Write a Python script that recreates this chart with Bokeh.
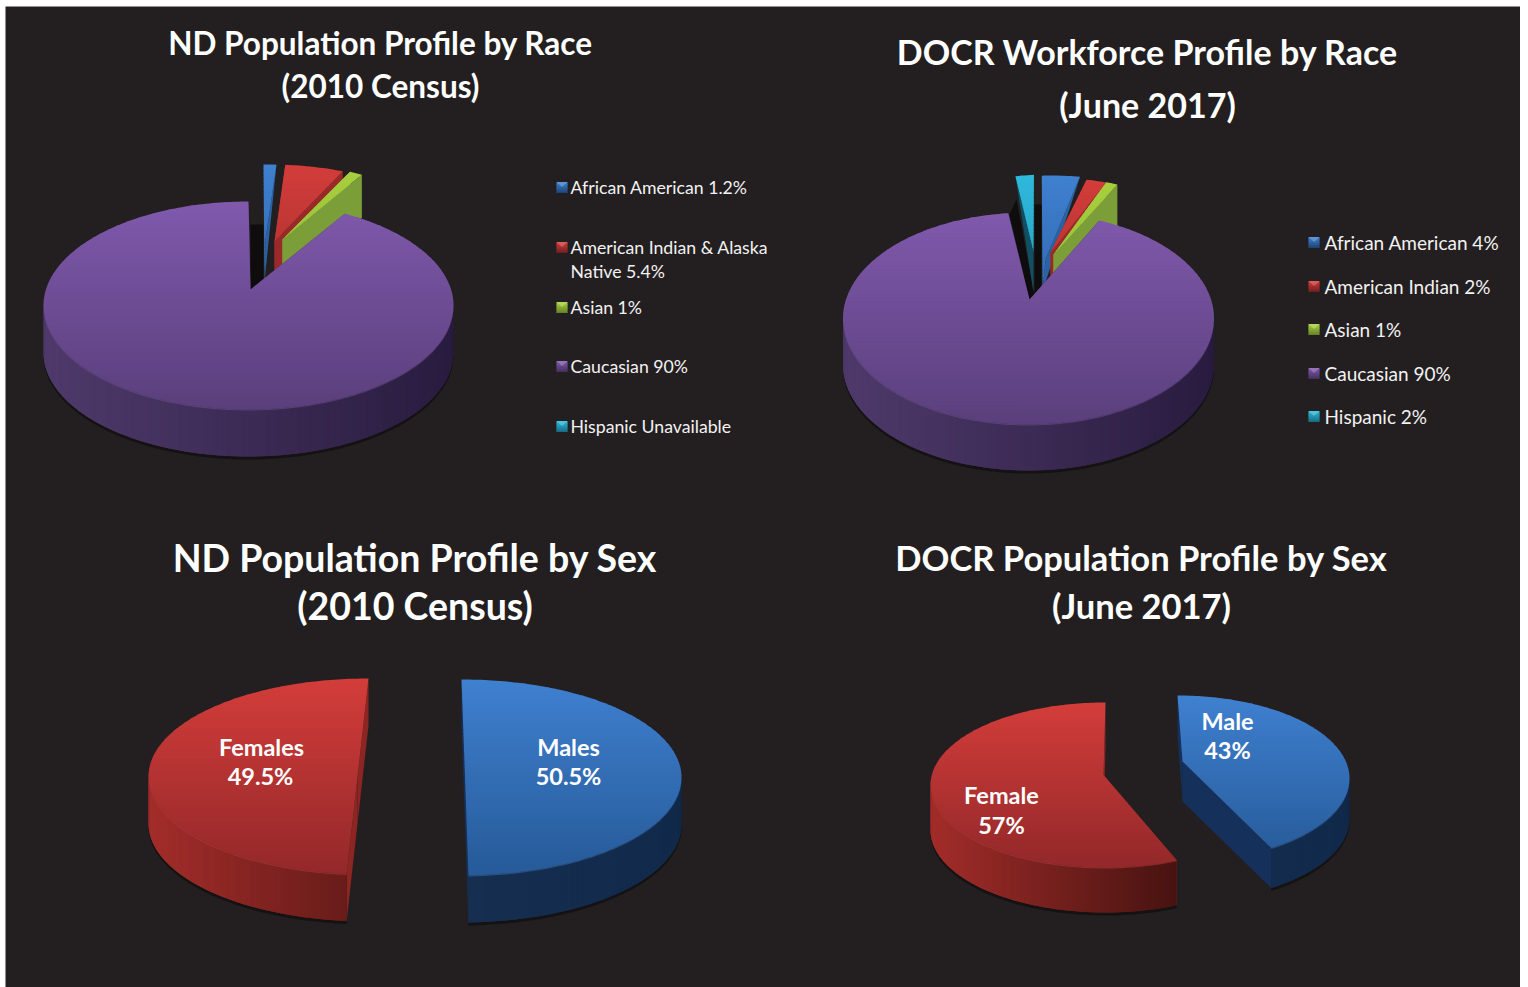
import math
from bokeh.plotting import figure
from bokeh.models import ColumnDataSource, Range1d
from bokeh.core.properties import value
from bokeh.embed import file_html
from bokeh.resources import INLINE

# ---------- data ----------
race_categories = ["African American", "American Indian", "Asian", "Caucasian", "Hispanic"]
nd_race_shares = [1.2, 5.4, 1.0, 90.0, 0.0]
docr_race_shares = [4.0, 2.0, 1.0, 90.0, 2.0]
sex_nd_categories = ["Males", "Females"]
sex_nd_shares = [50.5, 49.5]
sex_docr_categories = ["Male", "Female"]
sex_docr_shares = [43.0, 57.0]

nd_race_legend = ["African American  1.2%", "American Indian & Alaska", "Native  5.4%", "Asian  1%",
                  "Caucasian  90%", "Hispanic  Unavailable"]
docr_race_legend = ["African American 4%", "American Indian 2%", "Asian 1%", "Caucasian 90%", "Hispanic 2%"]

# ---------- style ----------
BG = "#231f20"
STYLE = {
    "African American": dict(top="#3f80d0", bot="#265a98", cut="#2a62a4", left="#1b3556", right="#11294a"),
    "American Indian": dict(top="#d33d3a", bot="#93282a", cut="#9a2a29", left="#a32d2a", right="#5a1814"),
    "Asian": dict(top="#a8d03e", bot="#86ad35", cut="#7c9e38", left="#6b8b30", right="#5a7a28"),
    "Caucasian": dict(top="#8059ac", bot="#5a3f7c", cut="#3c2a55", left="#4f3a6b", right="#291c3f"),
    "Hispanic": dict(top="#2fb8db", bot="#1f8fb0", cut="#115062", left="#0f4f60", right="#0c3f4e"),
}
SEX_STYLE = {
    "M": dict(top="#3f80d0", bot="#265a98", cut="#15305a", left="#1b3556", right="#11294a"),
    "F": dict(top="#d33d3a", bot="#93282a", cut="#8d2522", left="#a32d2a", right="#200806"),
}


def hex2rgb(h):
    return tuple(int(h[i:i + 2], 16) for i in (1, 3, 5))


def mix(a, b, t):
    t = max(0.0, min(1.0, t))
    ca, cb = hex2rgb(a), hex2rgb(b)
    return "#%02x%02x%02x" % tuple(round(ca[i] + (cb[i] - ca[i]) * t) for i in range(3))


def clip_y(poly, y0, y1):
    def clip(pts, inside, ycut):
        out = []
        for i in range(len(pts)):
            a, b = pts[i], pts[(i + 1) % len(pts)]
            ia, ib = inside(a), inside(b)
            if ia:
                out.append(a)
            if ia != ib:
                t = (ycut - a[1]) / (b[1] - a[1])
                out.append((a[0] + t * (b[0] - a[0]), ycut))
        return out
    p1 = clip(poly, lambda q: q[1] >= y0, y0)
    if not p1:
        return []
    return clip(p1, lambda q: q[1] <= y1, y1)


class Painter:
    def __init__(self):
        self.xs, self.ys, self.col, self.alpha = [], [], [], []

    def add(self, poly, color, alpha=1.0):
        if len(poly) < 3:
            return
        self.xs.append([q[0] for q in poly])
        self.ys.append([q[1] for q in poly])
        self.col.append(color)
        self.alpha.append(alpha)

    def grad(self, poly, y_top, y_bot, c_top, c_bot, step=4.0):
        lo = min(q[1] for q in poly)
        hi = max(q[1] for q in poly)
        y = lo
        while y < hi:
            piece = clip_y(poly, y, y + step + 0.8)
            t = (y + step / 2 - y_top) / (y_bot - y_top)
            self.add(piece, mix(c_top, c_bot, t))
            y += step


def draw_slice(P, theta0, theta1, s, g, st):
    cx, cy = g["cx"] + s.get("ex", 0), g["cy"] + s.get("ey", 0)
    rx, ry = g["rx"], g["ry"]
    d = s.get("depth", g["depth"])
    a0 = theta0 + s.get("trim0", 0)
    a1 = theta1 - s.get("trim1", 0)
    n = max(2, int(abs(a1 - a0)) + 1)
    angs = [a0 + (a1 - a0) * i / n for i in range(n + 1)]
    rim = [(cx + rx * math.sin(math.radians(a)), cy - ry * math.cos(math.radians(a))) for a in angs]
    apex = (cx + s["ax"], cy + s["ay"])
    down = lambda q: (q[0], q[1] + d)
    if "tipx" in s:
        tip = (cx + s["tipx"], cy + s["tipy"])
        if s["side"] == "right":
            P.add([rim[-1], tip, apex], st["cut"])
            face = rim + [apex, tip]
        else:
            P.add([rim[0], apex, tip], st["cut"])
            face = rim + [apex]
    else:
        P.add([apex, rim[0], down(rim[0]), down(apex)], st["cut"])
        P.add([apex, rim[-1], down(rim[-1]), down(apex)], st["cut"])
        front = [i for i in range(n) if math.cos(math.radians((angs[i] + angs[i + 1]) / 2)) < 0.02]
        for i in front:
            P.add([(rim[i][0], rim[i][1] + d), (rim[i + 1][0], rim[i + 1][1] + d),
                   (rim[i + 1][0], rim[i + 1][1] + d + 3), (rim[i][0], rim[i][1] + d + 3)], "#0c0a0b", 0.6)
        for i in front:
            am = (angs[i] + angs[i + 1]) / 2
            t = (math.sin(math.radians(am)) + 1) / 2
            j = min(i + 2, n)
            # strips overlap their neighbour so that no seam shows
            P.add([rim[i], rim[j], down(rim[j]), down(rim[i])], mix(st["left"], st["right"], t))
        face = rim + [apex]
    P.grad(face, cy - ry, cy + ry, st["top"], st["bot"])
    hl = [rim[i] for i in range(n + 1) if math.cos(math.radians(angs[i])) < 0]
    if len(hl) > 1 and "tipx" not in s:
        P.add(hl + [(q[0], q[1] + 1) for q in reversed(hl)], mix(st["top"], "#ffffff", 0.1), 0.35)


def draw_pie(P, shares, g, slices, styles, order, start=0.0):
    total = sum(shares)
    bounds = []
    a = start
    for v in shares:
        b = a + 360.0 * v / total
        bounds.append((a, b))
        a = b
    if "shade" in g:
        P.add(g["shade"], "#0e0c0d")
    for i in order:
        if shares[i] <= 0:
            continue
        draw_slice(P, bounds[i][0], bounds[i][1], slices[i], g, styles[i])


P = Painter()

# ---------- ND race ----------
g1 = dict(cx=248, cy=306, rx=205, ry=104, depth=47,
          shade=[(250, 225), (250, 291), (263, 279), (263, 225)])
s1 = [
    dict(ex=15, ey=-37, trim1=0.8, ax=2, ay=-29, tipx=1, tipy=13, side="right"),
    dict(ex=21, ey=-37, trim1=3.4, ax=5, ay=-27),
    dict(ex=17, ey=-39, ax=17, ay=-27, depth=43),
    dict(ax=2, ay=-16),
    dict(ax=0, ay=0),
]
draw_pie(P, nd_race_shares, g1, s1, [STYLE[c] for c in race_categories], [0, 1, 2, 4, 3])

# ---------- DOCR race ----------
g2 = dict(cx=1028, cy=319, rx=185.5, ry=106, depth=46,
          shade=[(1009, 215), (1029, 301), (1041, 293), (1041, 205), (1034, 205), (1034, 296), (1016, 200)])
s2 = [
    dict(ex=23, ey=-37, trim1=2.7, ax=-6, ay=-22, tipx=-9, tipy=10, side="right"),
    dict(ex=21, ey=-35, trim1=1.0, ax=1, ay=-31),
    dict(ex=18, ey=-36, ax=7, ay=-28, depth=43),
    dict(ax=1, ay=-19, trim1=-4.0),
    dict(ex=20, ey=-38, trim1=1.5, ax=-15, ay=-29, tipx=-15, tipy=12, side="left"),
]
draw_pie(P, docr_race_shares, g2, s2, [STYLE[c] for c in race_categories], [0, 1, 2, 4, 3], start=-3.0)

# ---------- ND sex ----------
g3 = dict(cx=414.5, cy=778, rx=220, ry=98, depth=47)
s3 = [
    dict(ex=46.5, trim1=3.6, ax=3.5, ay=0),
    dict(ex=-46.5, ey=-1, trim0=3.9, ax=-11, ay=0),
]
draw_pie(P, sex_nd_shares, g3, s3, [SEX_STYLE["M"], SEX_STYLE["F"]], [1, 0])

# ---------- DOCR sex ----------
g4 = dict(cx=1141, cy=782, rx=172, ry=83, depth=41)
s4 = [
    dict(ex=36, ey=-3, trim1=7.8, ax=5, ay=-17, depth=40),
    dict(ex=-36, ey=3.5, trim0=1.2, ax=-2, ay=-10, depth=45),
]
g4f = dict(g4, rx=175, ry=82.5)
draw_slice(P, 360 * sex_docr_shares[0] / 100, 360, s4[1], g4f, SEX_STYLE["F"])
draw_slice(P, 0, 360 * sex_docr_shares[0] / 100, s4[0], g4, SEX_STYLE["M"])


# ---------- legend swatches ----------
def swatch(cat, x, y, size=11):
    st = STYLE[cat]
    h = size / 2
    sq = [(x - h, y - h), (x + h, y - h), (x + h, y + h), (x - h, y + h)]
    P.grad(sq, y - h, y + h, st["top"], mix(st["bot"], "#000000", 0.25), step=2)
    P.add([(x - h, y - h), (x + h, y - h), (x, y - 0.5)], mix(st["top"], "#ffffff", 0.25), 0.7)


legend1_y = [188, 248, 308, 367, 427]
for cat, y in zip(race_categories, legend1_y):
    swatch(cat, 561.5, y)
legend2_y = [243, 287, 330, 374, 417]
for cat, y in zip(race_categories, legend2_y):
    swatch(cat, 1313.5, y, 11)

# ---------- figure ----------
p = figure(width=1520, height=987, x_range=Range1d(5, 1520), y_range=Range1d(988, 7),
           output_backend="svg", toolbar_location=None,
           min_border_left=5, min_border_top=6, min_border_right=0, min_border_bottom=0,
           background_fill_color=BG, border_fill_color="#ffffff", outline_line_color=None)
p.axis.visible = False
p.grid.visible = False

src = ColumnDataSource(dict(xs=P.xs, ys=P.ys, c=P.col, a=P.alpha))
p.patches("xs", "ys", source=src, fill_color="c", line_color=None, fill_alpha="a")


def texts(xs, ys, labels, size, style="bold", align="center", color="#ffffff", dy=0.0):
    s = ColumnDataSource(dict(x=xs, y=[v + dy for v in ys], t=labels))
    p.text("x", "y", text="t", source=s, text_font=value("Lato"), text_font_size=value(size),
           text_font_style=style, text_align=align, text_baseline="middle", text_color=color)


texts([380, 380], [44, 87], ["ND Population Profile by Race", "(2010 Census)"], "31.5px", dy=-1)
texts([1147, 1147], [53, 106], ["DOCR Workforce Profile by Race", "(June 2017)"], "34px", dy=-1)
texts([414.5, 414.5], [559, 607], ["ND Population Profile by Sex", "(2010 Census)"], "37.5px", dy=-1)
texts([1141, 1141], [559, 607], ["DOCR Population Profile by Sex", "(June 2017)"], "34.5px", dy=-1)

texts([570] * 6, [188, 248, 272, 308, 367, 427], nd_race_legend, "17.7px", "normal", "left", "#f2f2f2")
texts([1324] * 5, legend2_y, docr_race_legend, "19px", "normal", "left", "#f2f2f2")

texts([261, 260, 568, 568], [748, 777, 748, 777], ["Females", "49.5%", "Males", "50.5%"], "23.5px", dy=-1)
texts([1001, 1001, 1227, 1227], [796, 826, 722, 751], ["Female", "57%", "Male", "43%"], "23.5px", dy=-1)

open("out.html", "w").write(file_html(p, INLINE))
